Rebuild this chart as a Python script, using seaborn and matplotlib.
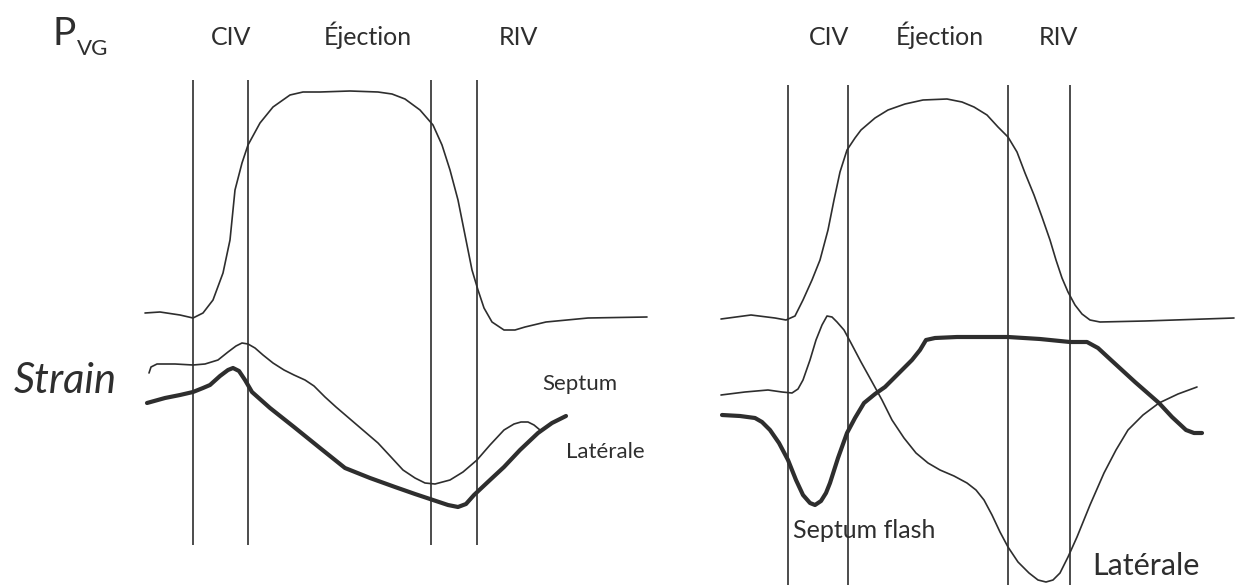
import matplotlib
matplotlib.use("Agg")
import matplotlib.pyplot as plt
import seaborn as sns

sns.set_theme(style="white")
plt.rcParams['font.family'] = ['Lato', 'DejaVu Sans']

INK = '#2e2e2e'

# phase markers (x positions in picture units) and their vertical extents
left_marks = [193, 248, 431, 477]
right_marks = [788, 848, 1008, 1070]

# left panel : normal contraction
left_pvg_x = [145, 160, 180, 193, 203, 213, 223, 230, 235, 242, 248, 260, 273, 290, 303, 320,
              350, 378, 392, 405, 420, 433, 442, 450, 458, 466, 472, 478, 484, 492, 504, 515, 525, 546, 588, 647]
left_pvg_y = [313, 312, 315, 318, 313, 300, 273, 240, 190, 163, 145, 123, 107, 95, 92, 92,
              91, 92, 94, 99, 110, 125, 145, 170, 200, 240, 270, 290, 308, 322, 330, 330, 327, 322, 318, 317]

left_septum_x = [149, 151, 157, 175, 193, 205, 218, 228, 236, 242, 248, 255, 263, 273, 284, 294, 305, 314,
                 325, 336, 357, 378, 391, 403, 415, 425, 435, 450, 463, 477, 490, 504, 514, 521, 528, 534, 540]
left_septum_y = [373, 367, 364, 364, 365, 364, 360, 352, 346, 343, 344, 348, 355, 363, 370, 375, 380, 386,
                 397, 407, 425, 443, 457, 470, 478, 483, 484, 480, 472, 460, 445, 430, 424, 422, 422, 425, 430]

left_lat_x = [147, 165, 180, 193, 203, 210, 220, 228, 233, 239, 245, 252, 270, 294, 320, 345, 370, 395,
              415, 433, 448, 458, 466, 474, 490, 504, 520, 538, 552, 566]
left_lat_y = [403, 398, 395, 392, 388, 385, 376, 370, 368, 371, 380, 392, 408, 427, 448, 468, 478, 487,
              494, 500, 505, 507, 504, 495, 480, 467, 450, 433, 423, 416]

# right panel : septal flash
right_pvg_x = [721, 751, 775, 786, 795, 803, 812, 820, 828, 834, 840, 847, 855, 861, 875, 888, 905, 923,
               947, 962, 974, 987, 998, 1008, 1017, 1025, 1034, 1042, 1050, 1056, 1062, 1068, 1075, 1082,
               1090, 1100, 1145, 1234]
right_pvg_y = [319, 315, 318, 320, 316, 300, 280, 260, 230, 200, 172, 150, 138, 130, 118, 110, 104, 100,
               99, 102, 107, 115, 127, 137, 152, 173, 195, 217, 240, 260, 278, 292, 305, 314,
               320, 322, 321, 318]

right_lat_x = [721, 745, 768, 782, 792, 798, 803, 810, 816, 822, 827, 832, 837, 844, 851, 861, 871, 882,
               892, 904, 916, 928, 940, 954, 967, 976, 984, 992, 1000, 1008, 1018, 1029, 1038, 1046, 1053,
               1060, 1068, 1077, 1090, 1104, 1116, 1128, 1143, 1159, 1178, 1197]
right_lat_y = [395, 392, 390, 392, 393, 389, 380, 360, 340, 325, 316, 317, 322, 330, 343, 362, 380, 400,
               420, 438, 453, 463, 470, 476, 483, 490, 500, 515, 532, 547, 562, 573, 580, 582, 580,
               573, 557, 537, 505, 473, 450, 430, 415, 403, 394, 387]

right_sept_x = [722, 740, 755, 762, 770, 779, 788, 796, 803, 810, 815, 821, 826, 830, 838, 847, 855, 864,
                875, 885, 898, 912, 920, 926, 935, 957, 1008, 1040, 1070, 1087, 1098, 1111, 1135, 1159,
                1172, 1186, 1194, 1202]
right_sept_y = [415, 416, 418, 422, 430, 443, 460, 480, 495, 503, 505, 501, 493, 483, 458, 433, 418, 403,
                394, 387, 374, 360, 350, 340, 338, 337, 337, 339, 342, 342, 348, 360, 382, 403,
                417, 430, 433, 433]

phases = ['CIV', 'Éjection', 'RIV']
left_phase_x = [231, 368, 518]
right_phase_x = [829, 940, 1058]

fig = plt.figure(figsize=(12.36, 5.85), dpi=100)
ax = fig.add_axes([0, 0, 1, 1])
ax.set_xlim(0, 1236)
ax.set_ylim(585, 0)
ax.set_axis_off()

ax.vlines(left_marks, 80, 545, color=INK, lw=1.2)
ax.vlines(right_marks, 85, 590, color=INK, lw=1.2)

thin = dict(color=INK, lw=1.2, sort=False, estimator=None, ax=ax)
thick = dict(color=INK, lw=3.0, sort=False, estimator=None, ax=ax)
sns.lineplot(x=left_pvg_x, y=left_pvg_y, **thin)
sns.lineplot(x=left_septum_x, y=left_septum_y, **thin)
sns.lineplot(x=left_lat_x, y=left_lat_y, **thick)
sns.lineplot(x=right_pvg_x, y=right_pvg_y, **thin)
sns.lineplot(x=right_lat_x, y=right_lat_y, **thin)
sns.lineplot(x=right_sept_x, y=right_sept_y, **thick)

# labels
ax.text(52, 45, 'P', fontsize=28, color=INK, va='baseline', ha='left')
ax.text(77, 55, 'VG', fontsize=16, color=INK, va='baseline', ha='left')
for x, s in zip(left_phase_x + right_phase_x, phases + phases):
    ax.text(x, 45, s, fontsize=18, color=INK, ha='center', va='baseline')
ax.text(14, 393, 'Strain', fontsize=30, style='italic', color=INK, ha='left', va='baseline')
ax.text(542, 390, 'Septum', fontsize=16, color=INK, ha='left', va='baseline')
ax.text(566, 458, 'Latérale', fontsize=16, color=INK, ha='left', va='baseline')
ax.text(793, 538, 'Septum flash', fontsize=18, color=INK, ha='left', va='baseline')
ax.text(1092, 575, 'Latérale', fontsize=22, color=INK, ha='left', va='baseline')

fig.savefig('out.png', dpi=100)
